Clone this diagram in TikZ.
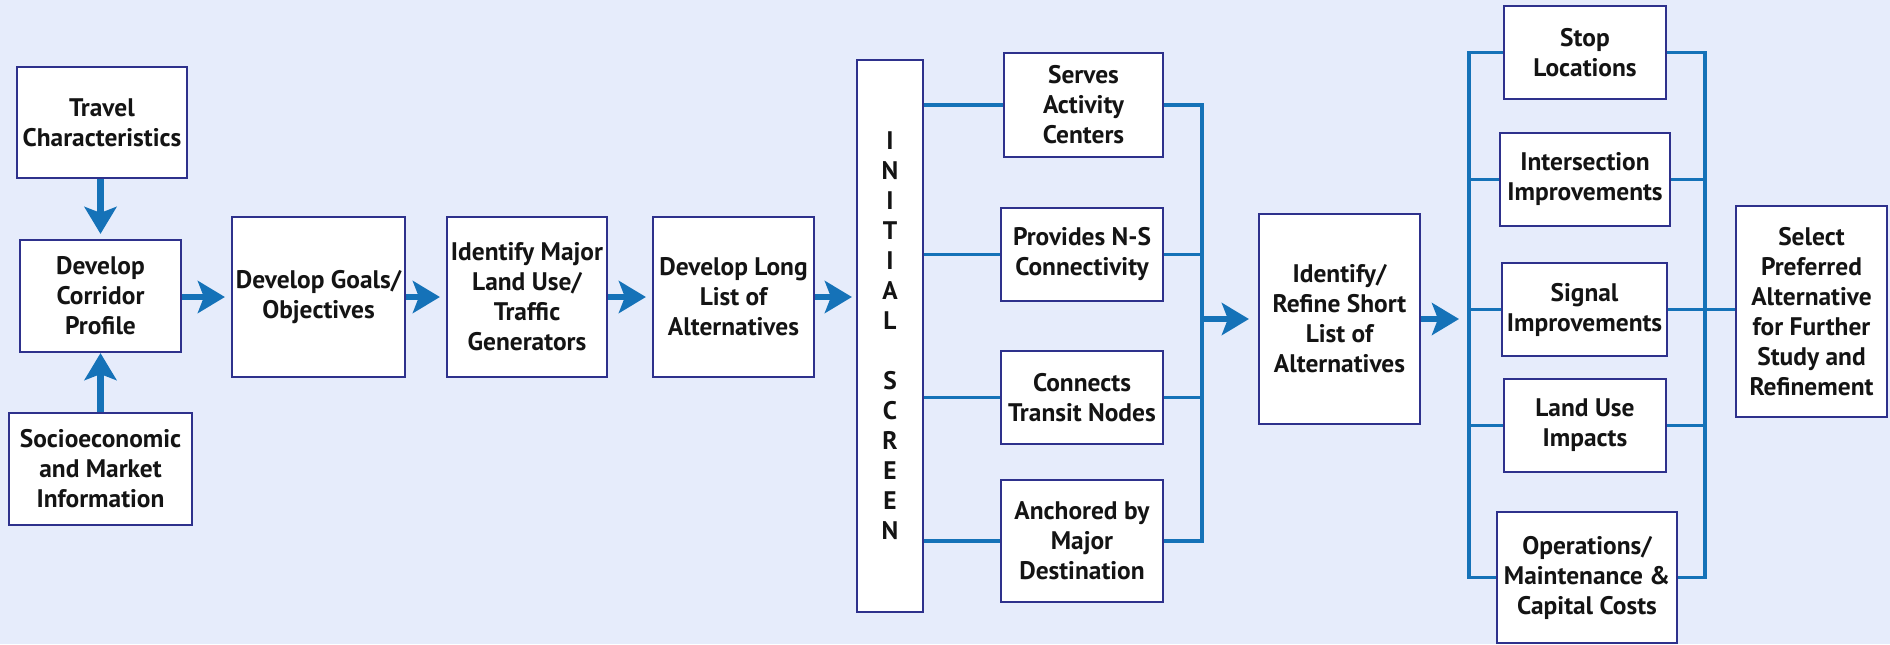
\documentclass[tikz,border=0pt]{standalone}
\usepackage{fontspec}
\setmainfont{PT Sans}
\usetikzlibrary{arrows.meta}
\definecolor{bg}{RGB}{230,236,251}
\definecolor{frame}{RGB}{46,49,140}
\definecolor{flow}{RGB}{21,114,184}
\begin{document}
\begin{tikzpicture}[x=0.5pt,y=-0.5pt,
  box/.style={draw=frame, line width=1.1pt, fill=white, inner sep=0pt, align=center,
    font=\fontsize{12.7}{15}\selectfont\bfseries, text=black!92},
  link/.style={draw=flow, line width=1.8pt},
  flowarrow/.style={draw=flow, line width=3.2pt,
    -{Stealth[length=13.5pt,width=16pt,inset=3pt]}, shorten >=3pt}
]
% page and background
\fill[bg] (0,0) rectangle (1890,644);
\useasboundingbox (0,0) rectangle (1890,644);
\clip (0,0) rectangle (1890,644);

% first stage
\node[box, minimum width=85pt, minimum height=55.5pt] (travel) at (102,122.5) {Travel\\Characteristics};
\node[box, minimum width=80.5pt, minimum height=56pt] (corridor) at (100.5,296) {Develop\\Corridor\\Profile};
\node[box, minimum width=91.5pt, minimum height=56pt] (socio) at (100.5,469) {Socioeconomic\\and Market\\Information};
\node[box, minimum width=86.5pt, minimum height=80pt] (goals) at (318.5,297) {Develop Goals/\\Objectives};
\node[box, minimum width=80pt, minimum height=80pt] (major) at (527,297) {Identify Major\\Land Use/\\Traffic\\Generators};
\node[box, minimum width=80.5pt, minimum height=80pt] (longlist) at (733.5,297) {Develop Long\\List of\\Alternatives};
\node[box, minimum width=33pt, minimum height=276pt] (screen) at (890,336) {I\\N\\I\\T\\I\\A\\L\\[15pt]S\\C\\R\\E\\E\\N};

% screening criteria
\node[box, minimum width=79.5pt, minimum height=52pt] (serves) at (1083.5,105) {Serves\\Activity\\Centers};
\node[box, minimum width=81pt, minimum height=46.5pt] (provides) at (1082,254.5) {Provides N-S\\Connectivity};
\node[box, minimum width=81pt, minimum height=46.5pt] (connects) at (1082,397.5) {Connects\\Transit Nodes};
\node[box, minimum width=81pt, minimum height=61pt] (anchored) at (1082,541) {Anchored by\\Major\\Destination};

\node[box, minimum width=80.5pt, minimum height=105pt] (refine) at (1339.5,319) {Identify/\\Refine Short\\List of\\Alternatives};

% evaluation criteria
\node[box, minimum width=81pt, minimum height=46.5pt] (stop) at (1585,52.5) {Stop\\Locations};
\node[box, minimum width=85pt, minimum height=46.5pt] (inter) at (1585,179.5) {Intersection\\Improvements};
\node[box, minimum width=82.5pt, minimum height=46.5pt] (signal) at (1584.5,309.5) {Signal\\Improvements};
\node[box, minimum width=81pt, minimum height=46.5pt] (landuse) at (1585,425.5) {Land Use\\Impacts};
\node[box, minimum width=90pt, minimum height=65.5pt] (ops) at (1587,577.5) {Operations/\\Maintenance \&\\Capital Costs};

\node[box, minimum width=75.5pt, minimum height=105.5pt] (select) at (1811.5,311.5) {Select\\Preferred\\Alternative\\for Further\\Study and\\Refinement};

% bus positions
\coordinate (busA) at (1202,0);
\coordinate (busB) at (1469,0);
\coordinate (busC) at (1705,0);

% main flow arrows
\draw[flowarrow, shorten >=2.5pt] (travel.south -| corridor.north) -- (corridor.north);
\draw[flowarrow, shorten >=0pt] (socio.north -| corridor.south) -- (corridor.south);
\draw[flowarrow] (corridor.east |- goals.west) -- (goals.west);
\draw[flowarrow] (goals.east) -- (major.west);
\draw[flowarrow] (major.east) -- (longlist.west);
\draw[flowarrow, shorten >=2pt] (longlist.east) -- (longlist.east -| screen.west);

% initial screen branches
\foreach \n in {serves,provides,connects,anchored}{
  \draw[link] (screen.east |- \n.west) -- (\n.west);
}
\draw[link] (serves.east) -- (serves.east -| busA) -- (anchored.east -| busA) -- (anchored.east);
\draw[link] (provides.east) -- (provides.east -| busA);
\draw[link] (connects.east) -- (connects.east -| busA);
\draw[flowarrow, shorten >=4.5pt] (refine.west -| busA) -- (refine.west);

% short list evaluation
\draw[flowarrow, shorten >=5pt] (refine.east) -- (refine.east -| busB);
\draw[link] (stop.west) -- (stop.west -| busB) -- (ops.west -| busB) -- (ops.west);
\draw[link] (stop.east) -- (stop.east -| busC) -- (ops.east -| busC) -- (ops.east);
\foreach \n in {inter,signal,landuse}{
  \draw[link] (\n.west) -- (\n.west -| busB);
  \draw[link] (\n.east) -- (\n.east -| busC);
}
\draw[link] (signal.east -| busC) -- (signal.east -| select.west);
\end{tikzpicture}
\end{document}
